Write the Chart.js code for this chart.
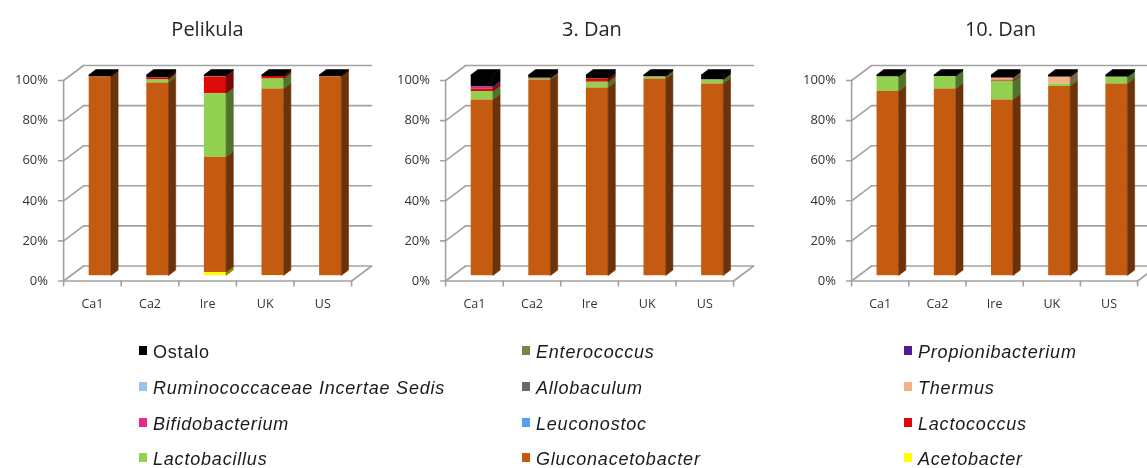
<!DOCTYPE html>
<html>
<head>
<meta charset="utf-8">
<script src="https://cdn.jsdelivr.net/npm/chart.js@4.4.1/dist/chart.umd.min.js"></script>
<style>
  html, body { margin: 0; padding: 0; background: #ffffff; }
  body { position: relative; width: 1147px; height: 468px; overflow: hidden; }
  canvas { position: absolute; top: 0; }
  #legend { position: absolute; left: 0; top: 0; width: 1147px; height: 468px;
            font-family: "Liberation Sans", Arial, sans-serif; font-size: 18px; color: #1a1a1a; }
  .item { position: absolute; white-space: nowrap; letter-spacing: 0.8px; font-style: italic; line-height: 20px; }
  .item.plain { font-style: normal; }
  .sw { display: inline-block; width: 8px; height: 9px; margin-right: 6px; vertical-align: 3px; }
</style>
</head>
<body>
<canvas id="c0"></canvas>
<canvas id="c1"></canvas>
<canvas id="c2"></canvas>
<div id="legend"></div>
<script>
// Samples on the x axis and the three sampling stages
const categories = ['Ca1', 'Ca2', 'Ire', 'UK', 'US'];
const panelTitles = ['Pelikula', '3. Dan', '10. Dan'];
const yTickValues = [0, 20, 40, 60, 80, 100];

// Genera, stacked bottom to top
const seriesNames = [
  'Acetobacter', 'Gluconacetobacter', 'Lactobacillus', 'Lactococcus',
  'Leuconostoc', 'Bifidobacterium', 'Thermus', 'Allobaculum',
  'Ruminococcaceae Incertae Sedis', 'Propionibacterium', 'Enterococcus', 'Ostalo'
];
const seriesColors = [
  '#ffff00', '#c55a11', '#92d050', '#dd0a0a',
  '#55a0f0', '#e6288a', '#f4b183', '#696969',
  '#9dc3e6', '#4f1a99', '#7f7f46', '#000000'
];

// Relative abundance (%) per genus: [Pelikula], [3. Dan], [10. Dan], each Ca1, Ca2, Ire, UK, US
const acetobacter       = [[0, 0, 1.7, 0.3, 0],     [0, 0, 0, 0, 0],            [0, 0, 0, 0, 0]];
const gluconacetobacter = [[99.3, 96.3, 57.5, 93.0, 99.4], [87.8, 97.7, 93.8, 98.3, 95.8], [92.0, 93.3, 87.8, 94.5, 95.8]];
const lactobacillus     = [[0, 1.5, 31.7, 5.0, 0],  [4.2, 0.4, 2.8, 1.0, 2.0],  [7.2, 6.2, 9.3, 1.3, 3.3]];
const lactococcus       = [[0, 1.0, 8.3, 1.2, 0],   [1.3, 0, 1.7, 0, 0],        [0, 0, 0.5, 0, 0]];
const leuconostoc       = [[0, 0, 0, 0, 0],         [0, 0, 0, 0, 0],            [0, 0, 0, 0, 0]];
const bifidobacterium   = [[0, 0, 0, 0, 0],         [0.8, 0, 0, 0, 0],          [0, 0, 0, 0, 0]];
const thermus           = [[0, 0, 0, 0, 0],         [0, 0, 0, 0, 0],            [0, 0, 1.0, 3.3, 0]];
const allobaculum       = [[0, 0, 0.3, 0, 0],       [0, 0, 0, 0, 0],            [0, 0, 0, 0, 0]];
const ruminococcaceae   = [[0, 0, 0, 0, 0],         [0, 0, 0, 0, 0],            [0, 0, 0, 0, 0]];
const propionibacterium = [[0, 0, 0, 0, 0],         [0.4, 0, 0, 0, 0],          [0, 0, 0, 0, 0]];
const enterococcus      = [[0, 0, 0, 0, 0],         [0, 0.5, 0, 0, 0],          [0, 0, 0, 0, 0]];
const ostalo            = [[0.7, 1.2, 0.5, 0.5, 0.6], [5.5, 1.4, 1.7, 0.7, 2.2], [0.8, 0.5, 1.4, 0.9, 0.9]];

const seriesValues = [
  acetobacter, gluconacetobacter, lactobacillus, lactococcus,
  leuconostoc, bifidobacterium, thermus, allobaculum,
  ruminococcaceae, propionibacterium, enterococcus, ostalo
];

// Pseudo-3D depth: front plane, back wall and bar thickness relative to the bar plane
const DEPTH = { fx: -7.4, fy: 5.5, bx: 12.6, by: -9.5, sx: 7.2, sy: -5.4 };
const GRID_COLOR = '#a2a2a2';
const FONT_FAMILY = '"Open Sans", "Liberation Sans", sans-serif';

function shade(hex, f) {
  const n = parseInt(hex.slice(1), 16);
  const r = Math.round(((n >> 16) & 255) * f);
  const g = Math.round(((n >> 8) & 255) * f);
  const b = Math.round((n & 255) * f);
  return `rgb(${r},${g},${b})`;
}

function poly(ctx, pts, color) {
  ctx.beginPath();
  ctx.moveTo(pts[0][0], pts[0][1]);
  for (let i = 1; i < pts.length; i++) ctx.lineTo(pts[i][0], pts[i][1]);
  ctx.closePath();
  ctx.fillStyle = color;
  ctx.strokeStyle = color;
  ctx.lineWidth = 0.6;
  ctx.fill();
  ctx.stroke();
}

const depthPlugin = {
  id: 'depth3d',
  beforeDatasetsDraw(chart) {
    const { ctx, chartArea: a, scales: { x, y } } = chart;
    const { fx, fy, bx, by } = DEPTH;
    const line = (x1, y1, x2, y2) => { ctx.beginPath(); ctx.moveTo(x1, y1); ctx.lineTo(x2, y2); ctx.stroke(); };
    ctx.save();
    ctx.strokeStyle = GRID_COLOR;
    ctx.lineWidth = 1.6;
    ctx.lineCap = 'round';
    ctx.lineJoin = 'round';
    const y0 = y.getPixelForValue(0);
    const yTop = y.getPixelForValue(100);
    y.ticks.forEach(t => {
      const py = y.getPixelForValue(t.value);
      line(a.left + fx, py + fy, a.left + bx, py + by);        // side wall
      line(a.left + bx, py + by, a.right + bx, py + by);       // back wall grid line
      line(a.left + fx - 5, py + fy, a.left + fx, py + fy);    // tick mark
    });
    line(a.left + fx, yTop + fy, a.left + fx, y0 + fy);        // front value axis
    line(a.left + fx, y0 + fy, a.right + fx, y0 + fy);         // floor front edge
    line(a.right + fx, y0 + fy, a.right + bx, y0 + by);        // floor right edge
    const n = chart.data.labels.length;
    for (let i = 0; i <= n; i++) {
      const px = x.getPixelForValue(i - 0.5) + fx;
      line(px, y0 + fy, px, y0 + fy + 5);
    }
    ctx.restore();
  },
  afterDatasetsDraw(chart) {
    const { ctx } = chart;
    const { sx, sy } = DEPTH;
    const n = chart.data.labels.length;
    const topIdx = new Array(n).fill(-1);
    chart.data.datasets.forEach((ds, di) => ds.data.forEach((v, i) => { if (v > 0) topIdx[i] = di; }));
    ctx.save();
    chart.data.datasets.forEach((ds, di) => {
      const meta = chart.getDatasetMeta(di);
      meta.data.forEach((el, i) => {
        if (!(ds.data[i] > 0)) return;
        const { x: cx, y: top, base, width } = el.getProps(['x', 'y', 'base', 'width'], true);
        const l = cx - width / 2, r = cx + width / 2;
        poly(ctx, [[r, top], [r + sx, top + sy], [r + sx, base + sy], [r, base]], shade(ds.backgroundColor, 0.55));
        if (topIdx[i] === di) {
          poly(ctx, [[l, top], [l + sx, top + sy], [r + sx, top + sy], [r, top]], shade(ds.backgroundColor, 0.8));
        }
      });
    });
    ctx.restore();
  },
  afterDraw(chart, args, opts) {
    // panel heading
    const { ctx } = chart;
    ctx.save();
    ctx.fillStyle = '#262626';
    ctx.font = `20px ${FONT_FAMILY}`;
    ctx.textAlign = 'center';
    ctx.textBaseline = 'middle';
    ctx.fillText(opts.text, opts.x, 30);
    ctx.restore();
  }
};

// Panel geometry: plot area of the bar plane and title centre
const panelBoxes = [
  { areaL: 70.5, areaR: 359, titleX: 207 },
  { areaL: 453, areaR: 741, titleX: 592 },
  { areaL: 858.5, areaR: 1145, titleX: 1000 }
];

const CANVAS_H = 330;
const X_AXIS_H = 40;
const Y_AXIS_W = 75;
const AREA_TOP = 75;
const AREA_BOTTOM = 275.5;

panelBoxes.forEach((box, p) => {
  const canvasLeft = box.areaL - Y_AXIS_W;
  const padR = 30;
  const canvasW = box.areaR + padR - canvasLeft;
  const cv = document.getElementById('c' + p);
  cv.width = canvasW;
  cv.height = CANVAS_H;
  cv.style.left = canvasLeft + 'px';
  cv.style.width = canvasW + 'px';
  cv.style.height = CANVAS_H + 'px';

  const datasets = seriesNames.map((name, s) => ({
    label: name,
    data: seriesValues[s][p],
    backgroundColor: seriesColors[s],
    borderWidth: 0,
    stack: 'all'
  }));

  new Chart(cv, {
    type: 'bar',
    data: { labels: categories, datasets },
    plugins: [depthPlugin],
    options: {
      responsive: false,
      animation: false,
      devicePixelRatio: 1,
      layout: { padding: { left: 0, right: padR, top: AREA_TOP, bottom: CANVAS_H - X_AXIS_H - AREA_BOTTOM } },
      datasets: { bar: { categoryPercentage: 1, barPercentage: 0.385 } },
      plugins: {
        legend: { display: false },
        tooltip: { enabled: false },
        title: { display: false },
        depth3d: { text: panelTitles[p], x: box.titleX - canvasLeft }
      },
      scales: {
        x: {
          stacked: true,
          grid: { display: false },
          border: { display: false },
          ticks: {
            color: '#333333',
            font: { family: FONT_FAMILY, size: 12.5 },
            labelOffset: DEPTH.fx,
            padding: 13,
            maxRotation: 0
          },
          afterFit: s => { s.height = X_AXIS_H; }
        },
        y: {
          stacked: true,
          min: 0,
          max: 100,
          afterBuildTicks: s => { s.ticks = yTickValues.map(v => ({ value: v })); },
          grid: { display: false, drawTicks: false },
          border: { display: false },
          ticks: {
            color: '#333333',
            font: { family: FONT_FAMILY, size: 13 },
            labelOffset: DEPTH.fy,
            padding: 23,
            callback: v => v + '%'
          },
          afterFit: s => { s.width = Y_AXIS_W; }
        }
      }
    }
  });
});

// Legend: three columns, filled row by row from the top of the stack
const legendCols = [139, 522, 904];
const legendRows = [352, 388, 424, 459];
const legendEl = document.getElementById('legend');
const legendOrder = seriesNames.map((_, i) => i).reverse();
legendOrder.forEach((s, k) => {
  const col = k % 3, row = Math.floor(k / 3);
  const item = document.createElement('div');
  item.className = 'item' + (seriesNames[s] === 'Ostalo' ? ' plain' : '');
  item.style.left = legendCols[col] + 'px';
  item.style.top = (legendRows[row] - 10) + 'px';
  const sw = document.createElement('span');
  sw.className = 'sw';
  sw.style.background = seriesColors[s];
  item.appendChild(sw);
  item.appendChild(document.createTextNode(seriesNames[s]));
  legendEl.appendChild(item);
});
</script>
</body>
</html>
